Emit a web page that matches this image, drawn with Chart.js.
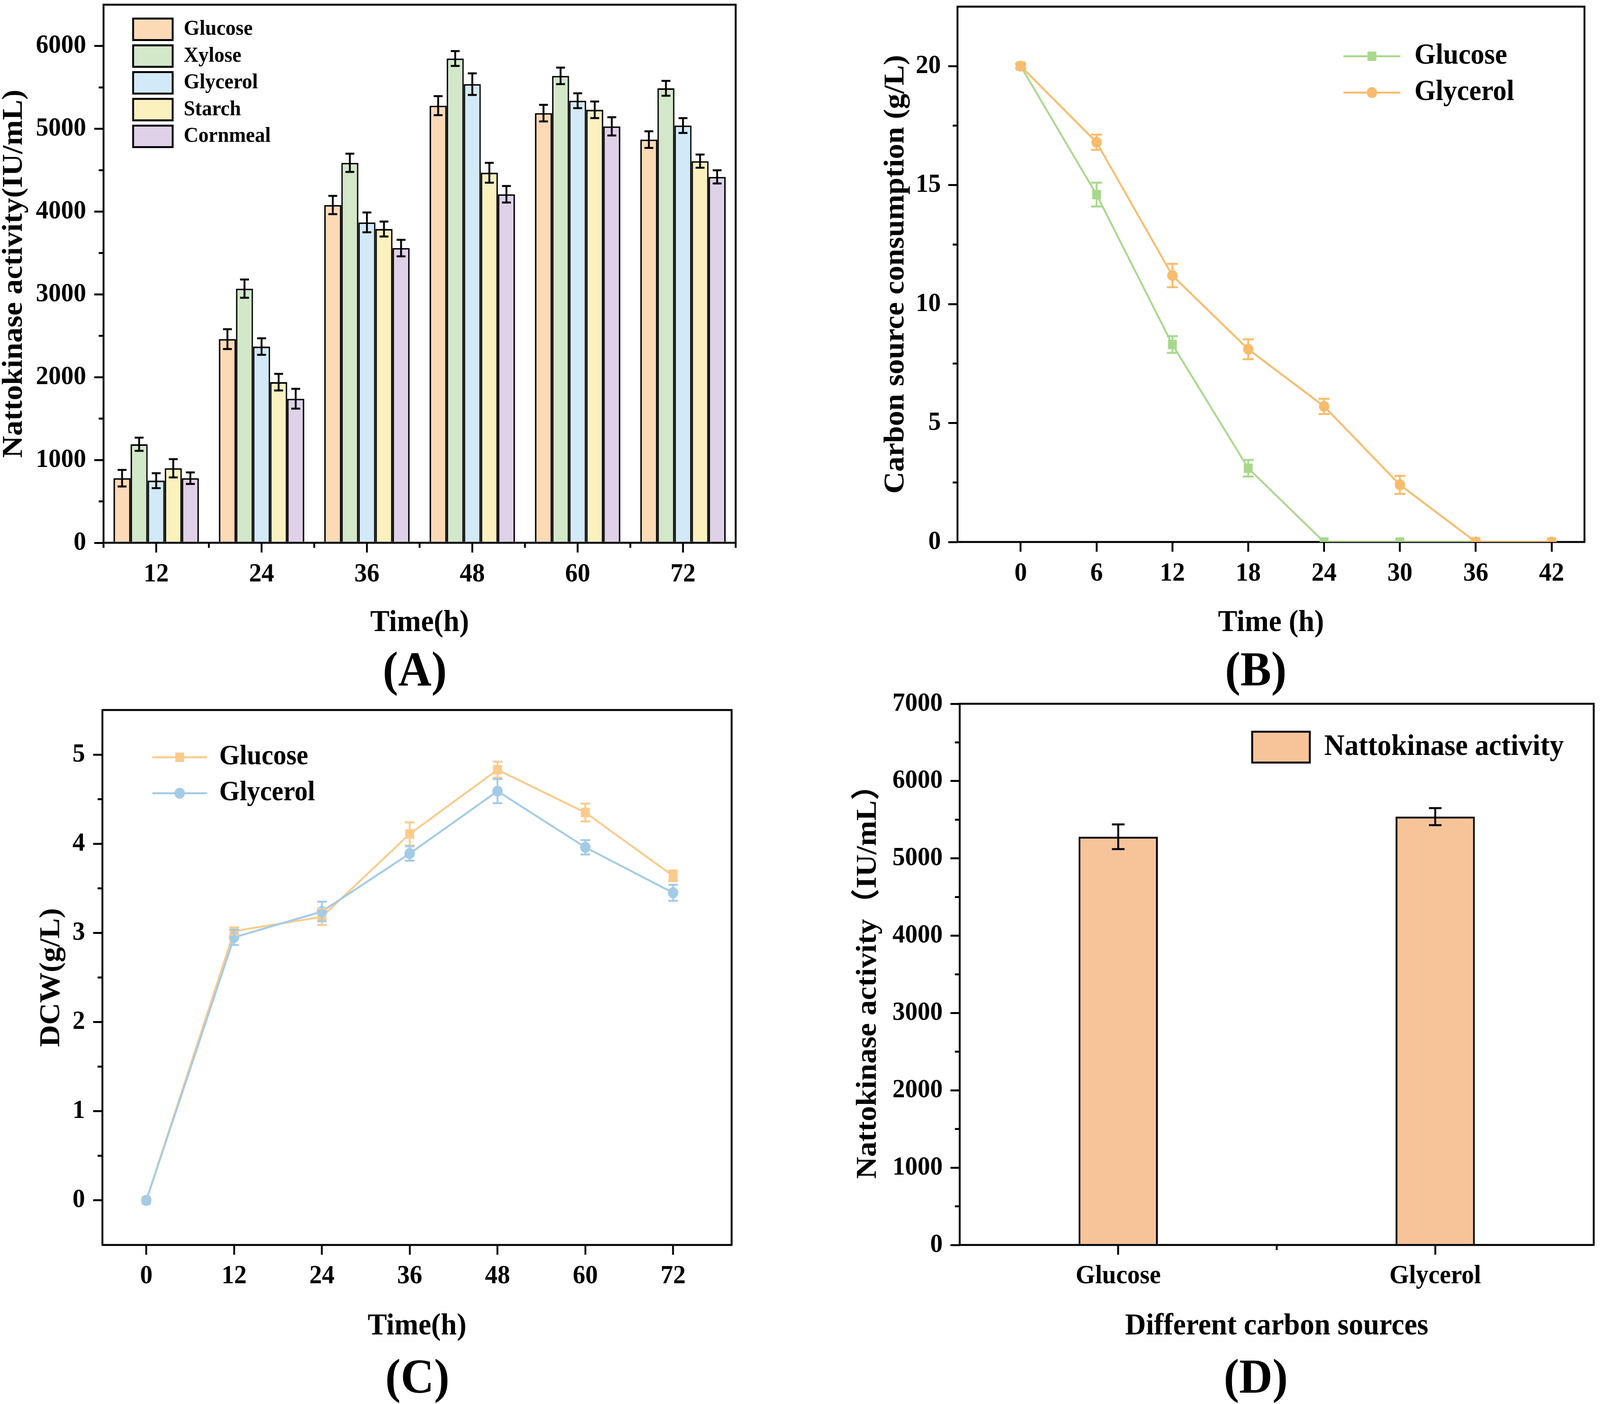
<!DOCTYPE html>
<html>
<head>
<meta charset="utf-8">
<script src="https://cdn.jsdelivr.net/npm/chart.js@4.4.1/dist/chart.umd.min.js"></script>
<style>
    html, body { margin: 0; padding: 0; background: #fff; overflow: hidden; }
    #page { position: relative; width: 4328px; height: 3593px; background: #fff; overflow: hidden; transform-origin: 0 0; }
    canvas { position: absolute; }
    .tag {
        position: absolute;
        font: bold 125px "Liberation Serif", "Times New Roman", serif;
        line-height: 1;
        white-space: nowrap;
        transform: translate(-50%, -50%);
    }
</style>
</head>
<body>
<div id="page">
    <canvas id="chartA" width="2160" height="1660" style="left:0;top:0;width:2160px;height:1660px"></canvas>
    <canvas id="chartB" width="2168" height="1660" style="left:2160px;top:0;width:2168px;height:1660px"></canvas>
    <canvas id="chartC" width="2160" height="1740" style="left:0;top:1720px;width:2160px;height:1740px"></canvas>
    <canvas id="chartD" width="2168" height="1740" style="left:2160px;top:1720px;width:2168px;height:1740px"></canvas>
    <div class="tag" style="left:1122px;top:1712px">(A)</div>
    <div class="tag" style="left:3397px;top:1712px">(B)</div>
    <div class="tag" style="left:1129px;top:3522px">(C)</div>
    <div class="tag" style="left:3397px;top:3522px">(D)</div>
</div>
<script>
// ---- (A) nattokinase activity per carbon source over time ----
const timesA = ['12', '24', '36', '48', '60', '72'];
const glucoseA = [780, 2460, 4080, 5280, 5190, 4870];
const glucoseErrA = [100, 120, 110, 115, 100, 100];
const xyloseA = [1190, 3070, 4590, 5850, 5640, 5490];
const xyloseErrA = [80, 110, 110, 90, 100, 90];
const glycerolA = [750, 2370, 3870, 5540, 5340, 5040];
const glycerolErrA = [90, 100, 120, 130, 90, 90];
const starchA = [900, 1940, 3790, 4470, 5230, 4610];
const starchErrA = [110, 100, 90, 120, 100, 80];
const cornmealA = [780, 1740, 3560, 4210, 5030, 4420];
const cornmealErrA = [70, 120, 100, 100, 110, 80];
const yTicksA = [0, 1000, 2000, 3000, 4000, 5000, 6000];

// ---- (B) carbon source consumption ----
const timesB = [0, 6, 12, 18, 24, 30, 36, 42];
const glucoseB = [20, 14.6, 8.3, 3.1, 0, 0, 0, 0];
const glucoseErrB = [0.1, 0.5, 0.35, 0.35, 0, 0, 0, 0];
const glycerolB = [20, 16.8, 11.2, 8.1, 5.7, 2.4, 0, 0];
const glycerolErrB = [0.1, 0.32, 0.49, 0.42, 0.32, 0.38, 0, 0];
const xTicksB = [0, 6, 12, 18, 24, 30, 36, 42];
const yTicksB = [0, 5, 10, 15, 20];

// ---- (C) dry cell weight ----
const timesC = [0, 12, 24, 36, 48, 60, 72];
const glucoseC = [0, 3.02, 3.18, 4.11, 4.83, 4.35, 3.64];
const glucoseErrC = [0.02, 0.04, 0.09, 0.13, 0.09, 0.1, 0.06];
const glycerolC = [0, 2.95, 3.24, 3.89, 4.59, 3.96, 3.45];
const glycerolErrC = [0.02, 0.085, 0.11, 0.08, 0.135, 0.08, 0.09];
const xTicksC = [0, 12, 24, 36, 48, 60, 72];
const yTicksC = [0, 1, 2, 3, 4, 5];

// ---- (D) nattokinase activity, glucose vs glycerol ----
const sourcesD = ['Glucose', 'Glycerol'];
const activityD = [5280, 5540];
const activityErrD = [160, 110];
const yTicksD = [0, 1000, 2000, 3000, 4000, 5000, 6000, 7000];

// the figure is laid out on a 4328x3593 sheet, squeeze it into whatever the window really is
const page = document.getElementById('page');
const sx = window.innerWidth / 4328;
const sy = window.innerHeight / 3593;
page.style.transform = 'scale(' + sx + ',' + sy + ')';

const fontFamily = '"Liberation Serif", "Times New Roman", "Noto Sans CJK SC", serif';

function boldFont(size) {
    return { family: fontFamily, size: size, weight: 'bold', lineHeight: 1 };
}

// box around the plot area (Origin style)
const framePlugin = {
    id: 'frame',
    beforeDatasetsDraw(chart, args, opts) {
        if (!opts.above) drawFrame(chart);
    },
    afterDatasetsDraw(chart, args, opts) {
        if (opts.above) drawFrame(chart);
    }
};

function drawFrame(chart) {
    const { ctx, chartArea: a } = chart;
    ctx.save();
    ctx.strokeStyle = '#000';
    ctx.lineWidth = 5;
    ctx.strokeRect(a.left, a.top, a.right - a.left, a.bottom - a.top);
    ctx.restore();
}

// short ticks between the labelled ones
const minorTickPlugin = {
    id: 'minorTicks',
    afterDraw(chart, args, opts) {
        const { ctx, chartArea: a } = chart;
        ctx.save();
        ctx.strokeStyle = '#000';
        ctx.lineWidth = 5;
        (opts.y || []).forEach(v => {
            const py = chart.scales.y.getPixelForValue(v);
            ctx.beginPath();
            ctx.moveTo(a.left - 13, py);
            ctx.lineTo(a.left, py);
            ctx.stroke();
        });
        (opts.x || []).forEach(v => {
            const px = chart.scales.x.getPixelForValue(v);
            ctx.beginPath();
            ctx.moveTo(px, a.bottom);
            ctx.lineTo(px, a.bottom + 13);
            ctx.stroke();
        });
        ctx.restore();
    }
};

// error bars from ds.errors, placed with the chart's own scales
const errorBarPlugin = {
    id: 'errorBars',
    afterDatasetsDraw(chart, args, opts) {
        const ctx = chart.ctx;
        ctx.save();
        ctx.lineWidth = opts.width || 5;
        chart.data.datasets.forEach((ds, i) => {
            if (!ds.errors) return;
            const meta = chart.getDatasetMeta(i);
            const yScale = chart.scales[meta.yAxisID];
            ctx.strokeStyle = opts.color || ds.borderColor;
            meta.data.forEach((el, j) => {
                const e = ds.errors[j];
                if (!e) return;
                const raw = ds.data[j];
                const v = typeof raw === 'object' ? raw.y : raw;
                const top = yScale.getPixelForValue(v + e);
                const bot = yScale.getPixelForValue(v - e);
                const half = opts.cap / 2;
                ctx.beginPath();
                ctx.moveTo(el.x, top);
                ctx.lineTo(el.x, bot);
                ctx.moveTo(el.x - half, top);
                ctx.lineTo(el.x + half, top);
                ctx.moveTo(el.x - half, bot);
                ctx.lineTo(el.x + half, bot);
                ctx.stroke();
            });
        });
        ctx.restore();
    }
};

// legend drawn inside the plot area at a fixed spot
const insideLegendPlugin = {
    id: 'insideLegend',
    afterDraw(chart, args, o) {
        if (!o.display) return;
        const ctx = chart.ctx;
        ctx.save();
        ctx.font = 'bold ' + o.size + 'px ' + fontFamily;
        ctx.textBaseline = 'middle';
        ctx.textAlign = 'left';
        chart.data.datasets.forEach((ds, i) => {
            const y = o.y + i * o.gap;
            if (o.kind === 'box') {
                ctx.fillStyle = ds.backgroundColor;
                ctx.fillRect(o.x, y - o.h / 2, o.w, o.h);
                ctx.strokeStyle = '#000';
                ctx.lineWidth = 5;
                ctx.strokeRect(o.x, y - o.h / 2, o.w, o.h);
            } else {
                ctx.strokeStyle = ds.borderColor;
                ctx.lineWidth = ds.borderWidth;
                ctx.beginPath();
                ctx.moveTo(o.x, y);
                ctx.lineTo(o.x + o.w, y);
                ctx.stroke();
                ctx.fillStyle = ds.pointBackgroundColor;
                Chart.helpers.drawPoint(ctx, {
                    pointStyle: ds.pointStyle,
                    radius: ds.pointRadius,
                    rotation: 0,
                    borderWidth: 0
                }, o.x + o.w / 2, y);
            }
            ctx.fillStyle = '#000';
            ctx.fillText(ds.label, o.tx, y);
        });
        ctx.restore();
    }
};

// fixed box sizes, and no extra room asked for half tick labels
function fixSize(s, w, h) {
    if (w !== null) s.width = w;
    if (h !== null) s.height = h;
    s.paddingTop = 0;
    s.paddingBottom = 0;
    s.paddingLeft = 0;
    s.paddingRight = 0;
}

function yAxis(width, tickPad, titleText, titlePad, min, max, tickValues) {
    return {
        min: min,
        max: max,
        afterFit: s => fixSize(s, width, null),
        afterBuildTicks: s => { s.ticks = tickValues.map(v => ({ value: v })); },
        border: { display: false },
        grid: { drawOnChartArea: false, tickLength: 25, lineWidth: 5, tickWidth: 5, tickColor: '#000' },
        ticks: { padding: tickPad, color: '#000', font: boldFont(68), autoSkip: false, callback: v => String(v) },
        title: { display: true, text: titleText, color: '#000', font: boldFont(78), padding: { top: titlePad, bottom: 0 } }
    };
}

function xAxis(height, tickPad, titleText, extra) {
    return Object.assign({
        afterFit: s => fixSize(s, null, height),
        border: { display: false },
        grid: { offset: false, drawOnChartArea: false, tickLength: 25, lineWidth: 5, tickWidth: 5, tickColor: '#000' },
        ticks: { padding: tickPad, color: '#000', font: boldFont(68), autoSkip: false, maxRotation: 0 },
        title: { display: true, text: titleText, color: '#000', font: boldFont(78), padding: { top: 0, bottom: 26 } }
    }, extra || {});
}

function baseOptions() {
    return {
        responsive: false,
        animation: false,
        devicePixelRatio: 1,
        events: []
    };
}

Chart.register(framePlugin, minorTickPlugin, errorBarPlugin, insideLegendPlugin);

// ---------- (A) ----------
function barSet(label, values, errors, color) {
    return {
        label: label,
        data: values,
        errors: errors,
        backgroundColor: color,
        borderColor: '#000',
        borderWidth: 4,
        categoryPercentage: 0.81,
        barPercentage: 1.0
    };
}

new Chart(document.getElementById('chartA'), {
    type: 'bar',
    data: {
        labels: timesA,
        datasets: [
            barSet('Glucose', glucoseA, glucoseErrA, '#FDDAB6'),
            barSet('Xylose', xyloseA, xyloseErrA, '#D3E7C9'),
            barSet('Glycerol', glycerolA, glycerolErrA, '#D2E9F7'),
            barSet('Starch', starchA, starchErrA, '#FBF1BF'),
            barSet('Cornmeal', cornmealA, cornmealErrA, '#DFD1E8')
        ]
    },
    options: Object.assign(baseOptions(), {
        layout: { padding: { left: 0, top: 12, right: 170, bottom: 0 } },
        scales: {
            x: xAxis(271, 22, 'Time(h)'),
            y: yAxis(280, 22, 'Nattokinase activity(IU/mL)', 0, 0, 6500, yTicksA)
        },
        plugins: {
            legend: { display: false },
            tooltip: { enabled: false },
            frame: { above: true },
            minorTicks: { y: [500, 1500, 2500, 3500, 4500, 5500], x: [-0.5, 0.5, 1.5, 2.5, 3.5, 4.5, 5.5] },
            errorBars: { color: '#000', cap: 24, width: 5 },
            insideLegend: { display: true, kind: 'box', x: 360, w: 107, h: 55, y: 75, gap: 68.5, tx: 497, size: 55 }
        }
    })
});

// ---------- (B) ----------
function lineSet(label, xs, ys, errors, color, style, radius, order) {
    return {
        label: label,
        data: xs.map((t, i) => ({ x: t, y: ys[i] })),
        errors: errors,
        borderColor: color,
        backgroundColor: color,
        pointBackgroundColor: color,
        pointBorderColor: color,
        pointBorderWidth: 0,
        borderWidth: 5,
        pointStyle: style,
        pointRadius: radius,
        tension: 0,
        order: order
    };
}

new Chart(document.getElementById('chartB'), {
    type: 'line',
    data: {
        datasets: [
            lineSet('Glucose', timesB, glucoseB, glucoseErrB, '#A8D88C', 'rect', 17, 1),
            lineSet('Glycerol', timesB, glycerolB, glycerolErrB, '#F8BC6C', 'circle', 14, 0)
        ]
    },
    options: Object.assign(baseOptions(), {
        layout: { padding: { left: 0, top: 11, right: 42, bottom: 0 } },
        scales: {
            x: xAxis(273, 22, 'Time (h)', {
                type: 'linear',
                min: -5,
                max: 44.6,
                afterBuildTicks: s => { s.ticks = xTicksB.map(v => ({ value: v })); }
            }),
            y: yAxis(430, 20, 'Carbon source consumption (g/L)', 225, 0, 22.5, yTicksB)
        },
        plugins: {
            legend: { display: false },
            tooltip: { enabled: false },
            frame: { above: false },
            minorTicks: { y: [2.5, 7.5, 12.5, 17.5] },
            errorBars: { cap: 30, width: 5 },
            insideLegend: { display: true, kind: 'line', x: 1474, w: 154, y: 144, gap: 93, tx: 1666, size: 74 }
        }
    })
});

// ---------- (C) ----------
new Chart(document.getElementById('chartC'), {
    type: 'line',
    data: {
        datasets: [
            lineSet('Glucose', timesC, glucoseC, glucoseErrC, '#FBCB8B', 'rect', 17, 1),
            lineSet('Glycerol', timesC, glycerolC, glycerolErrC, '#A3CBE8', 'circle', 14, 0)
        ]
    },
    options: Object.assign(baseOptions(), {
        layout: { padding: { left: 0, top: 97, right: 181, bottom: 0 } },
        scales: {
            x: xAxis(274, 21, 'Time(h)', {
                type: 'linear',
                min: -6,
                max: 80,
                afterBuildTicks: s => { s.ticks = xTicksC.map(v => ({ value: v })); }
            }),
            y: yAxis(277, 22, 'DCW(g/L)', 101, -0.5, 5.5, yTicksC)
        },
        plugins: {
            legend: { display: false },
            tooltip: { enabled: false },
            frame: { above: false },
            minorTicks: { y: [0.5, 1.5, 2.5, 3.5, 4.5] },
            errorBars: { cap: 26, width: 5 },
            insideLegend: { display: true, kind: 'line', x: 412, w: 148, y: 218, gap: 92, tx: 593, size: 71 }
        }
    })
});

// ---------- (D) ----------
new Chart(document.getElementById('chartD'), {
    type: 'bar',
    data: {
        labels: sourcesD,
        datasets: [{
            label: 'Nattokinase activity',
            data: activityD,
            errors: activityErrD,
            backgroundColor: '#F7C499',
            borderColor: '#000',
            borderWidth: 5,
            categoryPercentage: 0.5,
            barPercentage: 0.5
        }]
    },
    options: Object.assign(baseOptions(), {
        layout: { padding: { left: 0, top: 81, right: 17, bottom: 0 } },
        scales: {
            x: xAxis(274, 21, 'Different carbon sources'),
            y: yAxis(436, 21, 'Nattokinase activity（IU/mL）', 150, 0, 7000, yTicksD)
        },
        plugins: {
            legend: { display: false },
            tooltip: { enabled: false },
            frame: { above: true },
            minorTicks: { y: [500, 1500, 2500, 3500, 4500, 5500, 6500], x: [0.5] },
            errorBars: { color: '#000', cap: 34, width: 5 },
            insideLegend: { display: true, kind: 'box', x: 1227, w: 156, h: 79, y: 192, gap: 0, tx: 1422, size: 76 }
        }
    })
});
</script>
</body>
</html>
